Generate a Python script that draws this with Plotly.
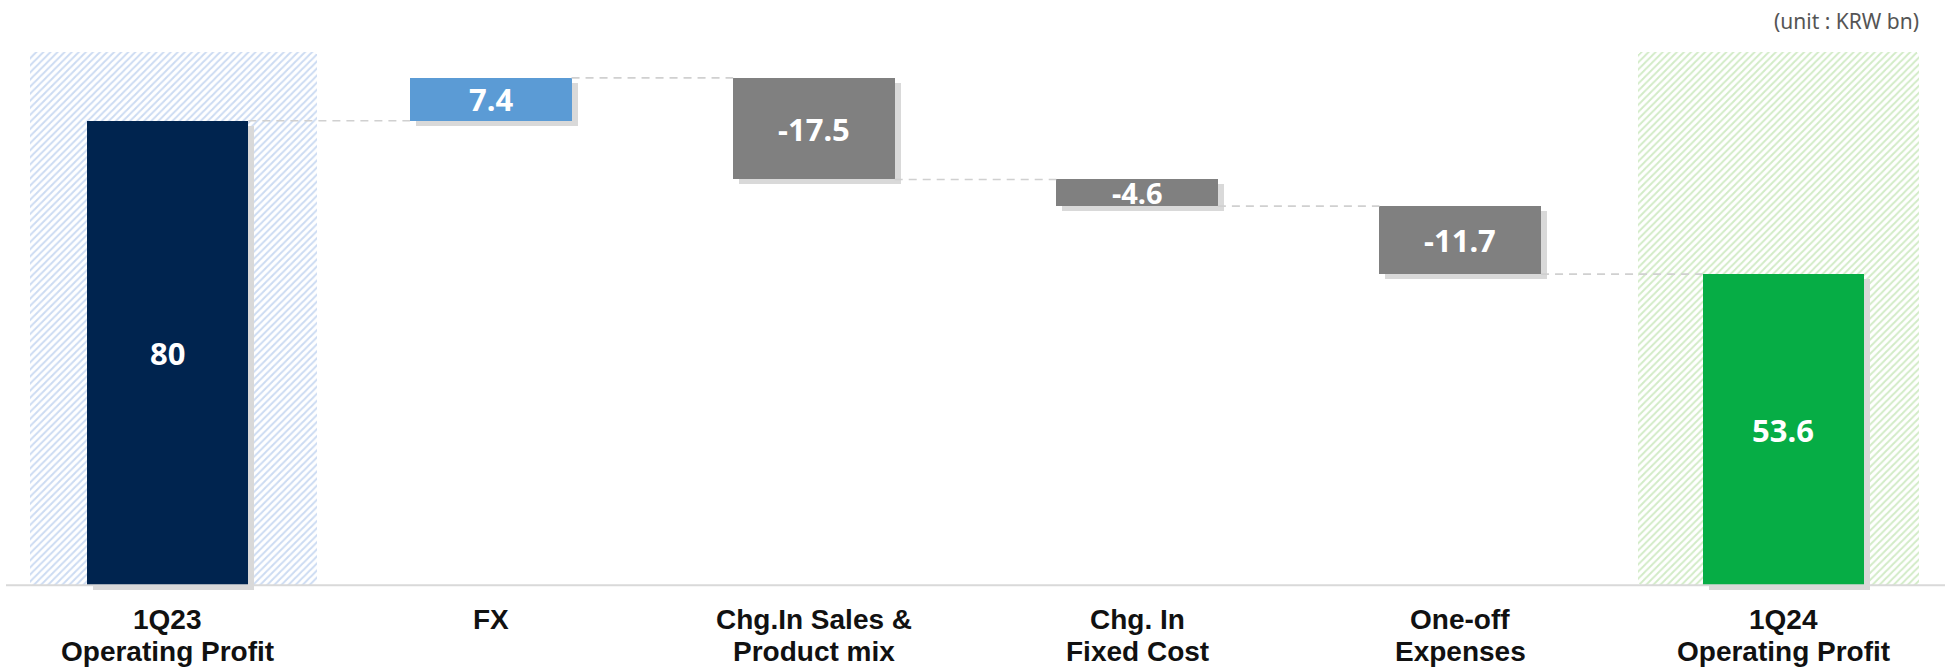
import plotly.graph_objects as go

# ---- data ----
categories = ["1Q23<br>Operating Profit", "FX", "Chg.In Sales &<br>Product mix",
              "Chg. In<br>Fixed Cost", "One-off<br>Expenses", "1Q24<br>Operating Profit"]
values = [80, 7.4, -17.5, -4.6, -11.7, 53.6]
kinds = ["total", "delta", "delta", "delta", "delta", "total"]
value_labels = ["80", "7.4", "-17.5", "-4.6", "-11.7", "53.6"]
unit_text = "(unit : KRW bn)"

# ---- styles ----
bar_colors = ["#00244f", "#5b9bd5", "#808080", "#808080", "#808080", "#06ad45"]
# index -> (pattern colour, hatch width, hatch shift) in category units
hatch_style = {0: ("#9ab8e6", 0.888, 0.019), 5: ("#a6d88f", 0.87, -0.016)}
HATCH_TOP = 91.8
BAR_W = 0.5
SH_DX = 0.0186   # shadow offset (category units)
SH_DY = 0.86     # shadow offset (value units)
Y_MIN, Y_MAX = -1.5, 93.92
LABEL_SHIFT0, LABEL_PITCH = 9, 32

# compute bases via running total
bases, running, ends = [], 0.0, []
for v, k in zip(values, kinds):
    if k == "total":
        bases.append(0.0)
        running = v
    else:
        bases.append(running)
        running = running + v
    ends.append(running)

xs = list(range(len(categories)))
fig = go.Figure()

# hatched backgrounds behind total bars
for i, (col, w, sh) in hatch_style.items():
    fig.add_trace(go.Bar(
        x=[xs[i]], y=[HATCH_TOP], base=[0], width=w, offset=-w / 2 + sh,
        marker=dict(color="white", line=dict(width=0), cornerradius=4,
                    pattern=dict(shape="/", fgcolor=col, bgcolor="white",
                                 size=5, solidity=0.4)),
        hoverinfo="skip", showlegend=False))

# dashed connectors
cx, cy = [], []
for i in range(len(xs) - 1):
    cx += [xs[i] + BAR_W / 2, xs[i + 1] - BAR_W / 2, None]
    cy += [ends[i], ends[i], None]
fig.add_trace(go.Scatter(x=cx, y=cy, mode="lines",
                         line=dict(color="#d0d0d0", width=1.6, dash="8px,6px"),
                         hoverinfo="skip", showlegend=False))

# shadows
fig.add_trace(go.Bar(
    x=xs, y=values, base=[b - SH_DY for b in bases], width=BAR_W,
    offset=-BAR_W / 2 + SH_DX,
    marker=dict(color="#d9d9d9", line=dict(width=0)),
    hoverinfo="skip", showlegend=False))

# main bars
fig.add_trace(go.Bar(
    x=xs, y=values, base=bases, width=BAR_W, offset=-BAR_W / 2,
    marker=dict(color=bar_colors, line=dict(width=0)),
    showlegend=False))

# value labels
for i, (v, b, t) in enumerate(zip(values, bases, value_labels)):
    size = 31 if abs(v) > 6 else 29
    fig.add_annotation(x=xs[i], y=b + v / 2, text=f"<b>{t}</b>", showarrow=False,
                       font=dict(family="Noto Sans", size=size, color="white"),
                       xanchor="center", yanchor="middle")

# category labels (one annotation per line for tight line spacing)
for i, cat in enumerate(categories):
    for j, line in enumerate(cat.split("<br>")):
        fig.add_annotation(x=xs[i], xref="x", y=0, yref="paper",
                           yanchor="top", xanchor="center", borderpad=0,
                           yshift=-(LABEL_SHIFT0 + j * LABEL_PITCH),
                           text=f"<b>{line}</b>", showarrow=False,
                           font=dict(family="Liberation Sans", size=28, color="#111111"))

# baseline
fig.add_shape(type="line", xref="paper", yref="y", x0=0, x1=1, y0=0, y1=0,
              line=dict(color="#d9d9d9", width=2), layer="above")

# unit label
fig.add_annotation(xref="paper", yref="paper", x=1, y=1.034, xanchor="right",
                   yanchor="middle", xshift=-24, showarrow=False, text=unit_text,
                   font=dict(family="Noto Sans", size=21, color="#555555"))

fig.update_layout(
    width=1948, height=669,
    margin=dict(l=6, r=3, t=40, b=75, autoexpand=False),
    paper_bgcolor="white", plot_bgcolor="white",
    barmode="overlay", bargap=0,
    xaxis=dict(range=[-0.5, 5.5], showticklabels=False,
               showgrid=False, zeroline=False, showline=False, ticks="",
               automargin=False),
    yaxis=dict(range=[Y_MIN, Y_MAX], visible=False, showgrid=False, zeroline=False,
               automargin=False),
)

fig.write_html("out.html", config={"displayModeBar": False},
               post_script="document.body.style.margin='0';document.body.style.overflow='hidden';")
